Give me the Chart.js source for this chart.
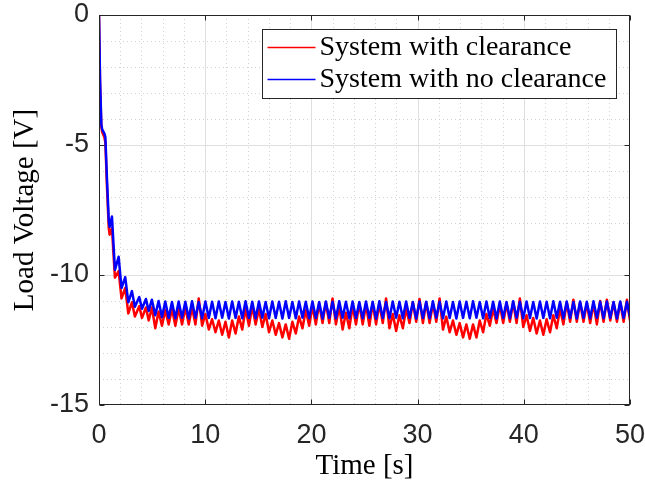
<!DOCTYPE html>
<html>
<head>
<meta charset="utf-8">
<script src="https://cdn.jsdelivr.net/npm/chart.js@4.4.1/dist/chart.umd.min.js"></script>
<style>
  html, body { margin: 0; padding: 0; background: #ffffff; }
  #wrap { width: 645px; height: 487px; }
  canvas { display: block; }
</style>
</head>
<body>
<div id="wrap"><canvas id="chart" width="645" height="487"></canvas></div>
<script>
// Time samples [s]
const time = [
  0, 0.1, 0.22, 0.3, 0.5, 0.6, 0.75, 0.92, 1.0, 1.22, 1.5, 1.85, 2.12, 2.47, 2.76, 3.1, 3.38, 3.79, 4.05, 4.42, 4.68,
  4.98, 5.30, 5.61, 5.93, 6.24, 6.56, 6.87, 7.19, 7.50, 7.82, 8.13, 8.45, 8.76, 9.08, 9.39, 9.71,
  10.02, 10.34, 10.65, 10.97, 11.28, 11.60, 11.91, 12.23, 12.54, 12.86, 13.17, 13.49, 13.80, 14.12, 14.43, 14.75,
  15.06, 15.38, 15.69, 16.01, 16.32, 16.64, 16.95, 17.27, 17.58, 17.90, 18.21, 18.53, 18.84, 19.16, 19.47, 19.79,
  20.10, 20.42, 20.73, 21.05, 21.36, 21.68, 21.99, 22.31, 22.62, 22.94, 23.25, 23.57, 23.88, 24.20, 24.51, 24.83,
  25.14, 25.46, 25.77, 26.09, 26.40, 26.72, 27.03, 27.35, 27.66, 27.98, 28.29, 28.61, 28.92, 29.24, 29.55, 29.87,
  30.18, 30.50, 30.81, 31.13, 31.44, 31.76, 32.07, 32.39, 32.70, 33.02, 33.33, 33.65, 33.96, 34.28, 34.59, 34.91,
  35.22, 35.54, 35.85, 36.17, 36.48, 36.80, 37.11, 37.43, 37.74, 38.06, 38.37, 38.69, 39.00, 39.32, 39.63, 39.95,
  40.26, 40.58, 40.89, 41.21, 41.52, 41.84, 42.15, 42.47, 42.78, 43.10, 43.41, 43.73, 44.04, 44.36, 44.67, 44.99,
  45.30, 45.62, 45.93, 46.25, 46.56, 46.88, 47.19, 47.51, 47.82, 48.14, 48.45, 48.77, 49.08, 49.40, 49.71, 50.00
];

// Load voltage [V], system with clearance
const voltageClearance = [
  0, -2.7, -4.3, -4.5, -4.7, -4.9, -6.6, -8.2, -8.45, -8.2, -10.1, -9.85, -10.9, -10.5, -11.48, -11.05, -11.6, -11.2, -11.65, -11.25, -11.75,
  -11.25, -12.05, -11.4, -11.95, -11.35, -11.9, -11.3, -11.95, -11.3, -11.9, -11.25, -11.9, -11.25, -11.9, -10.9, -11.95,
  -11.5, -12.1, -11.7, -12.2, -11.75, -12.3, -11.8, -12.4, -11.75, -12.25, -11.6, -12.1, -11.3, -11.95, -11.2, -11.9,
  -11.3, -12.0, -11.5, -12.2, -11.75, -12.3, -11.85, -12.4, -11.9, -12.45, -11.8, -12.25, -11.6, -12.05, -11.35, -11.95,
  -11.2, -11.9, -11.1, -11.85, -11.05, -11.85, -10.9, -11.9, -11.2, -12.1, -11.45, -12.05, -11.2, -11.9, -11.1, -11.9,
  -11.15, -11.95, -11.1, -11.9, -11.1, -11.85, -10.9, -12.05, -11.5, -12.15, -11.55, -12.05, -11.3, -11.85, -11.05, -11.8,
  -10.92, -11.85, -11.05, -11.85, -11.1, -11.8, -10.9, -12.1, -11.6, -12.2, -11.75, -12.3, -11.85, -12.4, -11.9, -12.45,
  -11.9, -12.4, -11.75, -12.2, -11.5, -11.95, -11.3, -11.85, -11.15, -11.85, -11.1, -11.8, -11.05, -11.85, -10.9, -12.0,
  -11.55, -12.15, -11.65, -12.25, -11.75, -12.3, -11.7, -12.2, -11.55, -12.05, -11.3, -11.9, -11.05, -11.8, -10.95, -11.8,
  -11.05, -11.8, -11.1, -11.85, -11.1, -11.9, -11.0, -11.8, -10.95, -11.75, -11.05, -11.8, -11.05, -11.8, -10.95, -11.75
];

// Load voltage [V], system with no clearance
const voltageNoClearance = [
  0, -2.5, -4.2, -4.4, -4.55, -4.7, -6.3, -7.9, -8.15, -7.75, -9.8, -9.3, -10.5, -10.08, -11.05, -10.62, -11.22, -10.85, -11.3, -10.92, -11.38,
  -10.95, -11.55, -11.0, -11.62, -11.02, -11.65, -11.04, -11.66, -11.02, -11.64, -11.03, -11.67, -11.01, -11.65, -11.04, -11.66,
  -11.02, -11.65, -11.03, -11.66, -11.02, -11.64, -11.04, -11.67, -11.02, -11.65, -11.03, -11.66, -11.01, -11.65, -11.03, -11.66,
  -11.02, -11.64, -11.04, -11.66, -11.02, -11.65, -11.03, -11.67, -11.01, -11.65, -11.04, -11.66, -11.02, -11.64, -11.03, -11.66,
  -11.02, -11.65, -11.04, -11.67, -11.02, -11.65, -11.03, -11.66, -11.01, -11.64, -11.03, -11.66, -11.02, -11.65, -11.04, -11.66,
  -11.02, -11.65, -11.03, -11.67, -11.01, -11.65, -11.04, -11.66, -11.02, -11.64, -11.03, -11.66, -11.02, -11.65, -11.04, -11.67,
  -11.02, -11.65, -11.03, -11.66, -11.01, -11.64, -11.03, -11.66, -11.02, -11.65, -11.04, -11.67, -11.02, -11.65, -11.03, -11.66,
  -11.01, -11.64, -11.04, -11.66, -11.02, -11.65, -11.03, -11.67, -11.02, -11.65, -11.04, -11.66, -11.01, -11.64, -11.03, -11.66,
  -11.02, -11.65, -11.04, -11.67, -11.02, -11.65, -11.03, -11.66, -11.01, -11.64, -11.03, -11.66, -11.02, -11.65, -11.04, -11.67,
  -11.02, -11.65, -11.03, -11.66, -11.01, -11.64, -11.03, -11.66, -11.02, -11.65, -11.04, -11.67, -11.02, -11.65, -11.03, -11.62
];

const seriesNames = ['System with clearance', 'System with no clearance'];
const seriesColors = ['#ff0000', '#0000ff'];
const xTicks = [0, 10, 20, 30, 40, 50];
const yTicks = [-15, -10, -5, 0];

const axisColor = '#262626';

function strokeLine(ctx, x1, y1, x2, y2) {
  ctx.beginPath();
  ctx.moveTo(x1, y1);
  ctx.lineTo(x2, y2);
  ctx.stroke();
}

// Grid (major solid, minor dotted), boxed axes with inward ticks
const axesFrame = {
  id: 'axesFrame',
  beforeDatasetsDraw(chart) {
    const { ctx, chartArea: a, scales: { x, y } } = chart;
    ctx.save();
    ctx.lineWidth = 1;
    ctx.strokeStyle = '#d2d2d2';
    ctx.setLineDash([1, 3]);
    for (let v = 2; v < 50; v += 2) {
      if (v % 10 === 0) continue;
      const px = Math.round(x.getPixelForValue(v)) + 0.5;
      strokeLine(ctx, px, a.top, px, a.bottom);
    }
    for (let v = -14; v < 0; v += 1) {
      if (v % 5 === 0) continue;
      const py = Math.round(y.getPixelForValue(v)) + 0.5;
      strokeLine(ctx, a.left, py, a.right, py);
    }
    ctx.setLineDash([]);
    ctx.strokeStyle = '#dfdfdf';
    xTicks.slice(1, -1).forEach(v => {
      const px = Math.round(x.getPixelForValue(v)) + 0.5;
      strokeLine(ctx, px, a.top, px, a.bottom);
    });
    yTicks.slice(1, -1).forEach(v => {
      const py = Math.round(y.getPixelForValue(v)) + 0.5;
      strokeLine(ctx, a.left, py, a.right, py);
    });
    ctx.restore();
  },
  afterDatasetsDraw(chart) {
    const { ctx, chartArea: a, scales: { x, y } } = chart;
    const L = Math.round(a.left) + 0.5, R = Math.round(a.right) - 0.5;
    const T = Math.round(a.top) + 0.5, B = Math.round(a.bottom) - 0.5;
    ctx.save();
    ctx.strokeStyle = axisColor;
    ctx.lineWidth = 1;
    ctx.strokeRect(L, T, R - L, B - T);
    const tl = 5;
    xTicks.forEach(v => {
      const px = Math.round(x.getPixelForValue(v)) + 0.5;
      strokeLine(ctx, px, B, px, B - tl);
      strokeLine(ctx, px, T, px, T + tl);
    });
    yTicks.forEach(v => {
      const py = Math.round(y.getPixelForValue(v)) + 0.5;
      strokeLine(ctx, L, py, L + tl, py);
      strokeLine(ctx, R, py, R - tl, py);
    });
    ctx.restore();
  }
};

// Boxed legend in the upper right of the plot area
const boxLegend = {
  id: 'boxLegend',
  afterDraw(chart) {
    const { ctx, chartArea: a } = chart;
    const right = Math.round(a.right) - 13.5;
    const left = right - 354;
    const top = Math.round(a.top) + 14.5;
    const height = 69;
    ctx.save();
    ctx.fillStyle = '#ffffff';
    ctx.fillRect(left, top, right - left, height);
    ctx.strokeStyle = axisColor;
    ctx.lineWidth = 1;
    ctx.strokeRect(left, top, right - left, height);
    ctx.font = '28px "Liberation Serif", "DejaVu Serif", serif';
    ctx.textBaseline = 'middle';
    ctx.textAlign = 'left';
    chart.data.datasets.forEach((ds, i) => {
      const cy = top + 18 + i * 32;
      ctx.strokeStyle = ds.borderColor;
      ctx.lineWidth = 1.5;
      strokeLine(ctx, left + 5, cy, left + 53, cy);
      ctx.fillStyle = '#000000';
      ctx.fillText(ds.label, left + 57, cy);
    });
    ctx.restore();
  }
};

const toPoints = vals => time.map((t, i) => ({ x: t, y: vals[i] }));

new Chart(document.getElementById('chart'), {
  type: 'line',
  data: {
    datasets: [
      {
        label: seriesNames[0],
        data: toPoints(voltageClearance),
        borderColor: seriesColors[0],
        borderWidth: 2.5,
        borderJoinStyle: 'round',
        pointRadius: 0,
        tension: 0,
        fill: false,
        order: 2
      },
      {
        label: seriesNames[1],
        data: toPoints(voltageNoClearance),
        borderColor: seriesColors[1],
        borderWidth: 2.5,
        borderJoinStyle: 'round',
        pointRadius: 0,
        tension: 0,
        fill: false,
        order: 1
      }
    ]
  },
  options: {
    responsive: false,
    animation: false,
    devicePixelRatio: 1,
    layout: { padding: { left: 0, right: 15, top: 15, bottom: 0 } },
    plugins: { legend: { display: false }, tooltip: { enabled: false } },
    scales: {
      x: {
        type: 'linear',
        min: 0,
        max: 50,
        afterBuildTicks: s => { s.ticks = xTicks.map(v => ({ value: v })); },
        afterFit: s => { s.height = 82; s.paddingLeft = 0; s.paddingRight = 0; },
        grid: { display: false, drawTicks: false },
        border: { display: false },
        ticks: {
          autoSkip: false,
          maxRotation: 0,
          padding: 14,
          color: axisColor,
          font: { family: '"Liberation Sans", Arial, sans-serif', size: 27, lineHeight: 1.2 }
        },
        title: {
          display: true,
          text: 'Time [s]',
          color: '#000000',
          padding: { top: 0, bottom: 3 },
          font: { family: '"Liberation Serif", "DejaVu Serif", serif', size: 29, lineHeight: 1.2 }
        }
      },
      y: {
        type: 'linear',
        min: -15,
        max: 0,
        afterBuildTicks: s => { s.ticks = yTicks.map(v => ({ value: v })); },
        afterFit: s => { s.width = 99; s.paddingTop = 0; s.paddingBottom = 0; },
        grid: { display: false, drawTicks: false },
        border: { display: false },
        ticks: {
          padding: 10,
          color: axisColor,
          font: { family: '"Liberation Sans", Arial, sans-serif', size: 27, lineHeight: 1.0 }
        },
        title: {
          display: true,
          text: 'Load Voltage [V]',
          color: '#000000',
          padding: { top: 8, bottom: 0 },
          font: { family: '"Liberation Serif", "DejaVu Serif", serif', size: 29, lineHeight: 1.2 }
        }
      }
    }
  },
  plugins: [axesFrame, boxLegend]
});
</script>
</body>
</html>
